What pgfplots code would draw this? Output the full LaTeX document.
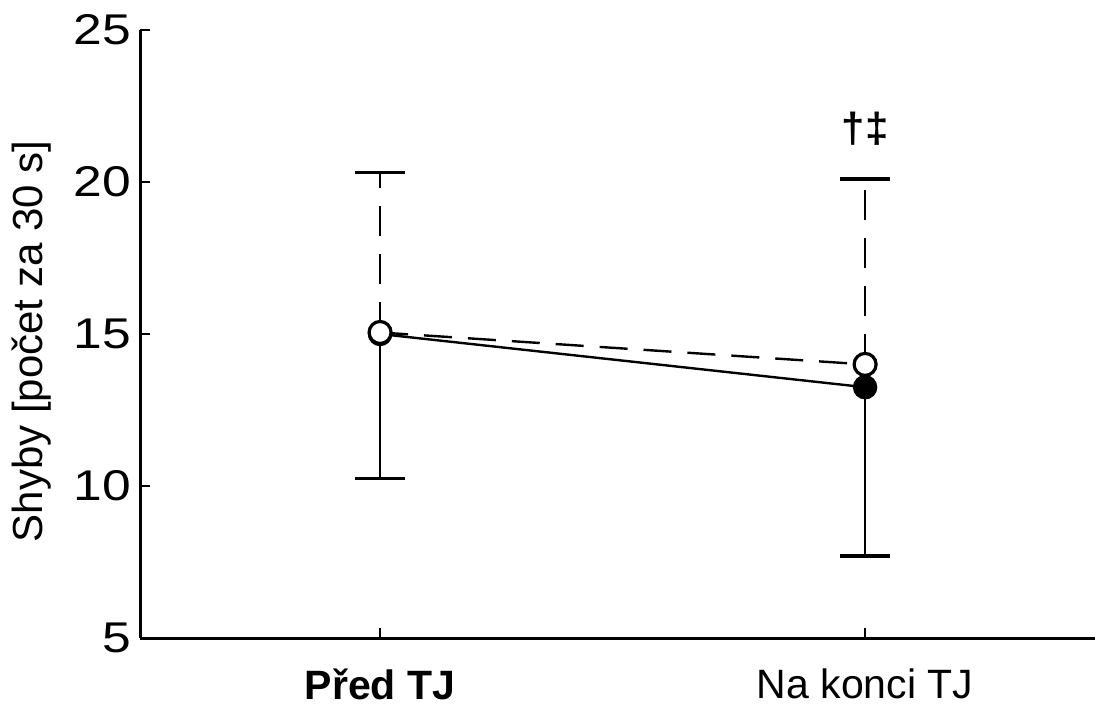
\documentclass[border=0pt]{standalone}
\usepackage{fontspec}
\setmainfont{Liberation Sans}
\newfontfamily\tickfont[FakeStretch=1.2]{Liberation Sans}
\usepackage{pgfplots}
\pgfplotsset{compat=1.18}
\begin{document}
\begin{tikzpicture}
\begin{axis}[
  at={(0,0)}, anchor=south west,
  scale only axis, width=477.5pt, height=304pt,
  axis x line=bottom, axis y line=left,
  axis line style={-, line width=1.5pt},
  xmin=-0.495, xmax=1.474, ymin=5, ymax=25,
  xtick={0,1}, xticklabels={\textbf{Před TJ}, Na konci TJ},
  ytick={5,10,15,20,25},
  tick align=inside, major tick length=5pt,
  tick style={line width=1.2pt, black},
  xticklabel style={font=\fontsize{20.5}{24}\selectfont, yshift=-12pt},
  yticklabel style={font=\fontsize{21.5}{25}\selectfont\tickfont, xshift=-1pt},
  /pgf/number format/assume math mode=true,
  ylabel={Shyby [počet za 30 s]},
  every axis y label/.style={at={(axis description cs:-0.114,0.488)}, rotate=90, anchor=center,
    font=\fontsize{21}{25}\selectfont},
  clip=false,
]
% filled series: solid, lower error
\addplot[black, line width=1.2pt, solid,
  mark=*, mark size=5.5pt, mark options={solid, fill=black},
  error bars/.cd, y dir=minus, y explicit,
  error bar style={line width=1.2pt, solid},
  error mark options={rotate=90, line width=1.6pt, mark size=12.5pt, solid}]
  coordinates {(0,15.0) -= (0,4.75) (1,13.25) -= (0,5.55)};
% open series: dashed, upper error
\addplot[black, line width=1.2pt, dash pattern=on 14pt off 8pt,
  mark=*, mark size=5.5pt, mark options={solid, fill=white, line width=1.6pt},
  error bars/.cd, y dir=plus, y explicit,
  error bar style={line width=1.2pt, dash pattern=on 15pt off 9pt},
  error mark options={rotate=90, line width=1.6pt, mark size=12.5pt, solid}]
  coordinates {(0,15.05) += (0,5.25) (1,14.0) += (0,6.1)};
\node[font=\fontsize{21}{25}\selectfont\bfseries] at (axis cs:1,21.75) {†‡};
\end{axis}
\pgfresetboundingbox
\path[use as bounding box] (-70pt,-35.5pt) rectangle (477.5pt,319pt);
\end{tikzpicture}
\end{document}
